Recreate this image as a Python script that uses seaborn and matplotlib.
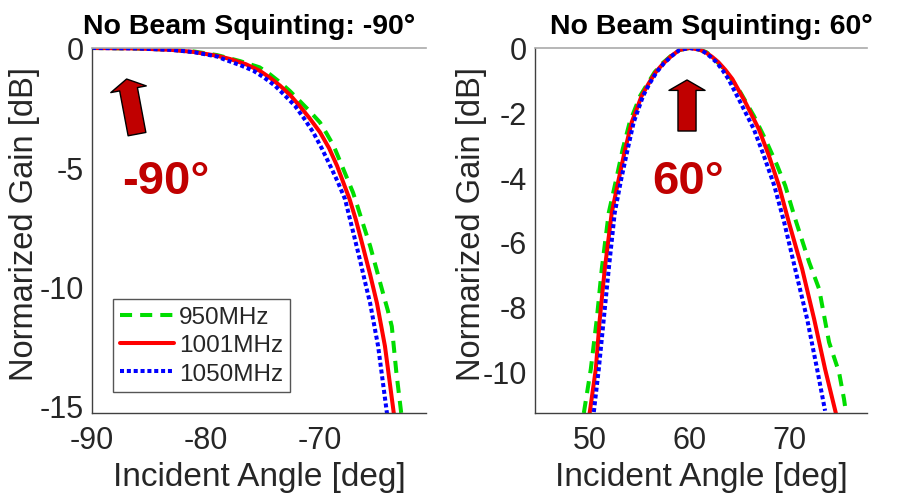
import numpy as np
import pandas as pd
import matplotlib
matplotlib.use('Agg')
import matplotlib.pyplot as plt
import seaborn as sns

# ---- data ----
freqs = ['950MHz', '1001MHz', '1050MHz']
colors = ['#00DD00', '#FF0000', '#0000FF']
styles = [(0, (3.0, 2.0)), '-', (0, (1.0, 0.7))]

# panel 1: steering -90 deg
left_x_950 = [-90, -86, -83, -81, -79, -77, -75.3, -74.4, -73.5, -72.65, -71.8, -70.9, -70.0,
              -69.4, -68.8, -67.95, -67.1, -66.7, -66.3, -65.6, -65.0, -64.4, -64.05, -63.7,
              -63.3, -62.85]
left_y_950 = [0, -0.02, -0.07, -0.15, -0.3, -0.55, -0.81, -1.1, -1.44, -1.8, -2.21, -2.65, -3.12,
              -3.6, -4.1, -5.08, -6.06, -6.65, -7.26, -8.3, -9.35, -10.4, -11.0, -11.67,
              -13.6, -15.4]
left_x_1001 = [-90, -86, -83, -81, -79, -77.9, -76.5, -75.3, -74.4, -73.5, -72.6, -71.8, -70.9,
               -70.0, -69.2, -68.5, -67.4, -66.85, -66.3, -65.6, -65.0, -64.3, -63.5]
left_y_1001 = [0, -0.02, -0.08, -0.17, -0.33, -0.46, -0.68, -0.95, -1.24, -1.58, -1.98, -2.42,
               -2.95, -3.53, -4.2, -4.94, -6.34, -7.2, -8.2, -9.5, -10.7, -12.5, -15.4]
left_x_1050 = [-90, -86, -83, -81, -79, -78.5, -77, -75.85, -74.9, -73.95, -73.1, -72.2, -71.4,
               -70.6, -69.85, -69.1, -68.45, -67.8, -67.15, -66.5, -66.05, -65.6, -64.9, -64.1]
left_y_1050 = [0, -0.02, -0.08, -0.18, -0.36, -0.46, -0.72, -0.95, -1.24, -1.58, -1.98, -2.42,
               -2.95, -3.53, -4.2, -4.94, -5.6, -6.34, -7.6, -8.87, -9.8, -10.7, -12.5, -15.4]

# panel 2: steering 60 deg
right_x_950 = [49.4, 50.1, 50.7, 51.2, 51.9, 52.65, 53.3, 54.0, 55.05, 55.8, 56.5, 57.3, 58.15,
               59.0, 60, 61.0, 61.7, 62.3, 63.0, 63.6, 65.1, 66.45, 67.6, 68.8, 69.6, 70.6,
               72.0, 73.0, 74.0, 75.0, 75.5, 75.7]
right_y_950 = [-11.3, -9.94, -8.39, -6.84, -5.1, -4.06, -3.13, -2.3, -1.48, -1.1, -0.75, -0.47,
               -0.24, -0.06, 0, -0.05, -0.13, -0.28, -0.5, -0.70, -1.37, -2.1, -2.82, -3.64,
               -4.26, -5.29, -6.63, -7.46, -9.11, -10.04, -10.87, -11.3]
right_x_1001 = [49.97, 50.6, 51.0, 51.5, 52.2, 52.9, 53.55, 54.2, 55.2, 55.9, 56.6, 57.4, 58.2,
                59.0, 60, 61.0, 61.6, 62.25, 62.9, 63.6, 64.3, 65.6, 66.95, 67.96, 68.97,
                69.97, 71.3, 72.5, 73.6, 74.7]
right_y_1001 = [-11.33, -9.94, -8.39, -6.84, -5.1, -4.06, -3.13, -2.30, -1.48, -1.1, -0.75,
                -0.47, -0.24, -0.06, 0, -0.05, -0.13, -0.27, -0.44, -0.68, -0.96, -1.68, -2.51,
                -3.33, -4.26, -5.4, -6.84, -8.39, -9.94, -11.33]
right_x_1050 = [50.4, 50.9, 51.4, 51.9, 52.5, 53.15, 53.8, 54.4, 55.35, 56.0, 56.7, 57.45,
                58.25, 59.0, 60, 61.0, 61.5, 62.1, 62.7, 63.3, 63.9, 65.1, 66.45, 67.45, 68.5,
                69.5, 70.6, 71.8, 72.8, 73.6]
right_y_1050 = [-11.27, -9.94, -8.39, -6.84, -5.1, -4.06, -3.13, -2.3, -1.48, -1.1, -0.75,
                -0.47, -0.24, -0.06, 0, -0.05, -0.13, -0.27, -0.44, -0.68, -0.96, -1.68, -2.51,
                -3.33, -4.26, -5.4, -6.84, -8.39, -9.94, -11.23]

titles = ['No Beam Squinting: -90°', 'No Beam Squinting: 60°']
steer_labels = ['-90°', '60°']
xticks = [[-90, -80, -70], [50, 60, 70]]
yticks = [[0, -5, -10, -15], [0, -2, -4, -6, -8, -10]]

sns.set_theme(style='white')
plt.rcParams['font.family'] = ['Liberation Sans', 'DejaVu Sans']
plt.rcParams['axes.unicode_minus'] = False

fig = plt.figure(figsize=(9.06, 5.02), dpi=100)
ax1 = fig.add_axes([0.1015, 0.1753, 0.3687, 0.7271])
ax2 = fig.add_axes([0.5905, 0.1753, 0.3664, 0.7271])

panels = [
    (ax1, [left_x_950, left_x_1001, left_x_1050], [left_y_950, left_y_1001, left_y_1050]),
    (ax2, [right_x_950, right_x_1001, right_x_1050], [right_y_950, right_y_1001, right_y_1050]),
]
for ax, xs, ys in panels:
    for f, c, ls, x, y in zip(freqs, colors, styles, xs, ys):
        df = pd.DataFrame({'angle': x, 'gain': y})
        sns.lineplot(data=df, x='angle', y='gain', ax=ax, color=c, linestyle=ls,
                     linewidth=2.9, label=f, sort=False)

dark = '#262626'
ylab_x = [-0.157, -0.145]
ytick_pad = [6, 6]
for i, ax in enumerate([ax1, ax2]):
    ax.set_xticks(xticks[i])
    ax.set_yticks(yticks[i])
    ax.tick_params(axis='both', labelsize=22, colors=dark, direction='in', length=4, width=1)
    ax.tick_params(axis='x', pad=9)
    ax.tick_params(axis='y', pad=ytick_pad[i])
    ax.set_xlabel('Incident Angle [deg]', fontsize=24, color=dark, labelpad=4)
    ax.set_ylabel('Normarized Gain [dB]', fontsize=23.5, color=dark)
    ax.yaxis.set_label_coords(ylab_x[i], 0.52)
    ax.set_title(titles[i], fontsize=20.5, fontweight='bold', color='black', pad=11,
                 x=0.47 if i == 0 else 0.53)
    for s in ['left', 'bottom']:
        ax.spines[s].set_color('#404040')
        ax.spines[s].set_linewidth(1)
    ax.spines['right'].set_visible(False)
    ax.spines['top'].set_color('#AAAAAA')
    ax.spines['top'].set_linewidth(1.2)

ax1.set_xlim(-90, -60.7)
ax1.set_ylim(-15.3, 0)
ax2.set_xlim(44.5, 77.8)
ax2.set_ylim(-11.3, 0)

ax2.get_legend().remove()
ax1.legend(loc='lower left', bbox_to_anchor=(0.063, 0.058), fontsize=17.5, frameon=True,
           fancybox=False, edgecolor='#555555', framealpha=1, borderaxespad=0,
           handlelength=2.2, handletextpad=0.2, labelspacing=0.25, borderpad=0.3)

# steering arrows and labels
arrow_red = '#C00000'
arrows = [(ax1, (-86.96, -1.30), (-86.05, -3.61)), (ax2, (59.75, -0.99), (59.75, -2.57))]
for ax, tip, tail in arrows:
    ax.annotate('', xy=tip, xytext=tail,
                arrowprops=dict(arrowstyle='simple,head_width=2.6,head_length=0.75,tail_width=1.3',
                                mutation_scale=10, fc=arrow_red, ec='black', lw=1,
                                shrinkA=0, shrinkB=0))
ax1.text(-83.5, -5.59, steer_labels[0], fontsize=34, fontweight='bold', color=arrow_red,
         ha='center', va='center')
ax2.text(59.9, -4.12, steer_labels[1], fontsize=34, fontweight='bold', color=arrow_red,
         ha='center', va='center')

fig.savefig('out.png', dpi=100)
